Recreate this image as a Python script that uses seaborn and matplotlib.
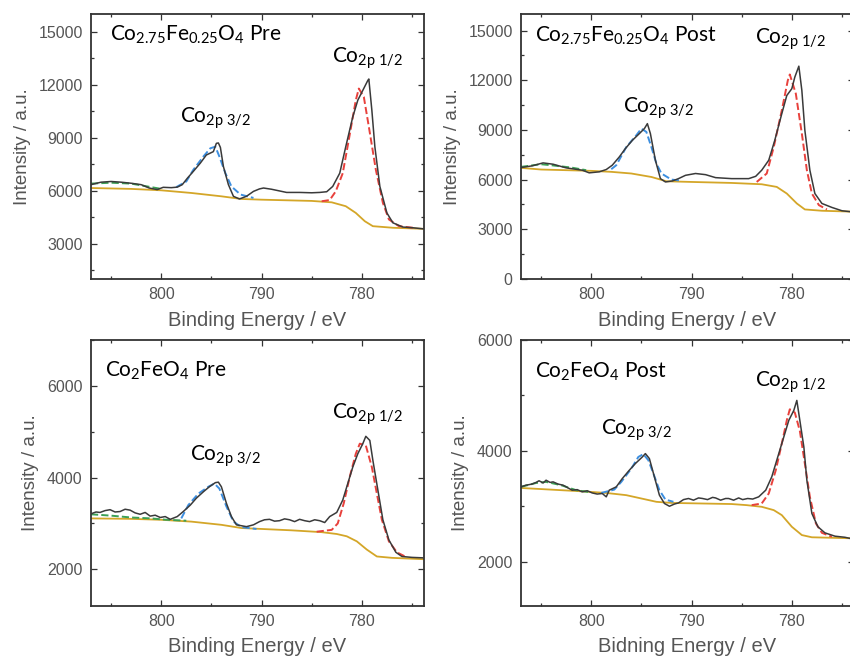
import matplotlib
matplotlib.use("Agg")
import matplotlib.pyplot as plt
from matplotlib.ticker import MultipleLocator
import seaborn as sns
import pandas as pd

# ---------------- Co2.75Fe0.25O4 Pre ----------------
pre275_E = [807.0, 806.0, 805.0, 804.0, 803.0, 802.0, 801.2, 800.4, 799.8, 799.0, 798.4, 797.9,
            797.4, 796.8, 796.1, 795.5, 794.8, 794.5, 794.3, 794.1, 793.8, 793.3, 792.8, 792.2,
            791.5, 790.8, 790.2, 789.8, 789.0, 788.5, 787.5, 786.2, 785.0, 784.2, 783.5, 782.9,
            782.2, 781.6, 780.9, 780.4, 779.9, 779.4, 779.3, 779.0, 778.7, 778.2, 777.5, 776.9,
            775.9, 774.9, 773.9]
pre275_I = [6340, 6480, 6520, 6480, 6420, 6340, 6150, 6060, 6190, 6170, 6200, 6340,
            6700, 7090, 7560, 8020, 8210, 8680, 8700, 8450, 7370, 6340, 5680, 5530,
            5680, 5960, 6100, 6150, 6080, 6020, 5900, 5900, 5880, 5900, 5940, 6240,
            6990, 8490, 10180, 11120, 11680, 12240, 12320, 10560, 8490, 6240, 4740, 4180,
            3940, 3900, 3840]
pre275_bg_E = [807, 803, 800, 797, 794, 792, 790, 785, 783, 781.6, 780.6, 779.7, 778.9, 776.9, 773.8]
pre275_bg_I = [6150, 6100, 6020, 5870, 5680, 5530, 5490, 5420, 5340, 5120, 4740, 4270, 3990, 3900, 3840]
pre275_a_E = [798.5, 797.5, 796.8, 795.8, 795.1, 794.6, 794.2, 793.6, 793.0, 792.1, 790.8]
pre275_a_I = [6200, 6520, 7180, 7930, 8400, 8490, 7930, 6990, 6240, 5780, 5590]
pre275_b_E = [784.0, 783.2, 782.6, 781.9, 781.3, 780.6, 780.3, 779.8, 779.3, 778.6, 777.9, 777.3, 776.3, 774.6]
pre275_b_I = [5400, 5470, 5960, 6990, 8870, 11120, 11780, 11310, 9620, 7180, 5310, 4370, 3990, 3880]
pre275_c_E = [807, 805, 803, 801.4, 800]
pre275_c_I = [6400, 6450, 6400, 6240, 6100]

# ---------------- Co2.75Fe0.25O4 Post ----------------
post275_E = [807.0, 805.9, 804.8, 803.8, 802.5, 800.9, 800.2, 799.2, 798.5, 797.9, 797.2, 796.6,
             795.9, 795.2, 794.7, 794.4, 794.1, 793.6, 793.1, 792.6, 791.9, 791.3, 790.6, 789.6,
             788.6, 787.6, 786.0, 784.3, 783.6, 783.0, 782.3, 781.7, 781.0, 780.5, 780.0, 779.7,
             779.3, 779.0, 778.7, 778.2, 777.7, 777.0, 776.0, 775.0, 774.1, 773.6]
post275_I = [6730, 6830, 7010, 6930, 6710, 6570, 6410, 6470, 6610, 6870, 7370, 7870,
             8370, 8780, 9080, 9380, 8780, 7170, 6060, 5860, 5920, 6060, 6260, 6370,
             6300, 6120, 6060, 6060, 6200, 6570, 7170, 8370, 9980, 11080, 11490, 12190,
             12850, 11390, 8980, 6570, 5160, 4560, 4320, 4120, 4060, 3950]
post275_bg_E = [807, 805, 800, 798, 796, 794, 792.5, 790, 786, 783, 781.5, 780.5, 779.5, 778.7, 777, 773.6]
post275_bg_I = [6710, 6610, 6530, 6470, 6370, 6160, 5900, 5860, 5800, 5720, 5560, 5160, 4560, 4200, 4120, 4060]
post275_a_E = [798.0, 797.5, 796.5, 795.5, 795.0, 794.5, 794.0, 793.5, 793.0, 792.0, 791.0]
post275_a_I = [6630, 6870, 7970, 8680, 9080, 8880, 7970, 6970, 6370, 6000, 5940]
post275_b_E = [783.5, 782.5, 781.8, 781.0, 780.4, 780.2, 779.6, 779.0, 778.5, 778.0, 777.3, 776.5]
post275_b_I = [5860, 6370, 7970, 10180, 11990, 12350, 11190, 8780, 6570, 5160, 4460, 4200]
post275_c_E = [807, 805, 804, 802, 800.5]
post275_c_I = [6770, 6930, 6870, 6730, 6570]

# ---------------- Co2FeO4 Pre ----------------
pre2_E = [807.0, 806.5, 806.1, 805.6, 805.1, 804.6, 804.1, 803.6, 803.1, 802.6, 802.1, 801.6,
          801.1, 800.6, 800.1, 799.6, 799.1, 798.4, 797.8, 797.1, 796.5, 795.8, 795.2, 794.6,
          794.3, 794.0, 793.5, 793.0, 792.5, 792.0, 791.5, 790.8, 790.2, 789.7, 789.2, 788.7,
          788.2, 787.7, 787.2, 786.7, 786.2, 785.7, 785.2, 784.7, 784.2, 783.7, 783.2, 782.5,
          781.9, 781.4, 780.9, 780.4, 779.9, 779.6, 779.2, 778.9, 778.4, 777.9, 777.3, 776.6,
          776.0, 775.0, 773.9]
pre2_I = [3210, 3250, 3240, 3280, 3300, 3250, 3260, 3310, 3290, 3230, 3200, 3240,
          3160, 3180, 3130, 3150, 3090, 3150, 3260, 3400, 3550, 3690, 3800, 3890,
          3900, 3800, 3440, 3150, 2970, 2950, 2930, 2970, 3040, 3080, 3090, 3050,
          3060, 3100, 3080, 3040, 3090, 3060, 3040, 3080, 3060, 3020, 3150, 3240,
          3510, 3870, 4230, 4520, 4740, 4900, 4810, 4380, 3730, 3080, 2640, 2370,
          2280, 2260, 2250]
pre2_bg_E = [807, 803, 800, 797, 794, 792, 790, 787, 784, 782.5, 781.5, 780.5, 779.5, 778.5, 777, 773.8]
pre2_bg_I = [3110, 3100, 3080, 3040, 2970, 2900, 2880, 2850, 2810, 2770, 2720, 2610, 2430, 2280, 2250, 2220]
pre2_a_E = [798.0, 797.3, 796.3, 795.3, 794.7, 794.2, 793.5, 792.8, 792.0, 790.5]
pre2_a_I = [3110, 3400, 3650, 3800, 3870, 3760, 3370, 3040, 2920, 2880]
pre2_b_E = [784.5, 783.0, 782.4, 781.8, 781.2, 780.6, 780.2, 779.6, 779.0, 778.5, 778.0, 777.3, 776.5, 775.5]
pre2_b_I = [2820, 2860, 3000, 3440, 4020, 4520, 4740, 4700, 4230, 3650, 3080, 2610, 2370, 2260]
pre2_c_E = [807, 805, 803, 801, 799.5, 797.5]
pre2_c_I = [3200, 3170, 3130, 3110, 3080, 3060]

# ---------------- Co2FeO4 Post ----------------
post2_E = [807.0, 806.5, 805.9, 805.5, 805.2, 804.8, 804.5, 804.1, 803.8, 803.3, 802.8, 802.3,
           801.9, 801.4, 800.9, 800.4, 799.9, 799.4, 798.9, 798.5, 798.2, 797.5, 796.9, 796.2,
           795.6, 794.9, 794.6, 794.2, 793.7, 793.2, 792.7, 792.2, 791.7, 791.3, 790.8, 790.3,
           789.8, 789.3, 788.9, 788.4, 787.9, 787.6, 787.1, 786.6, 786.3, 785.8, 785.3, 784.9,
           784.4, 783.9, 783.3, 782.6, 782.0, 781.3, 780.8, 780.3, 779.8, 779.5, 779.2, 778.8,
           778.5, 778.0, 777.4, 776.7, 775.7, 774.7, 774.2, 773.6]
post2_I = [3350, 3380, 3400, 3430, 3460, 3420, 3470, 3430, 3440, 3400, 3380, 3330,
           3290, 3300, 3260, 3280, 3240, 3220, 3230, 3170, 3290, 3350, 3500, 3650,
           3770, 3890, 3950, 3860, 3530, 3200, 3050, 3000, 3040, 3060, 3120, 3140,
           3110, 3150, 3140, 3120, 3160, 3150, 3110, 3140, 3140, 3110, 3150, 3120,
           3140, 3130, 3170, 3290, 3530, 3950, 4250, 4550, 4730, 4910, 4550, 4070,
           3470, 2870, 2630, 2520, 2460, 2440, 2420, 2420]
post2_bg_E = [807, 804, 801, 798.5, 796.5, 795, 793.5, 792, 789, 786, 784.5, 783, 781.8, 781, 780, 779, 778, 773.6]
post2_bg_I = [3330, 3300, 3270, 3240, 3200, 3140, 3080, 3060, 3050, 3040, 3020, 2990, 2930, 2840, 2630, 2480, 2440, 2420]
post2_a_E = [799.0, 797.7, 797.0, 796.0, 795.3, 794.8, 794.3, 793.8, 793.2, 792.6, 791.8]
post2_a_I = [3240, 3300, 3440, 3680, 3890, 3940, 3830, 3590, 3290, 3120, 3080]
post2_b_E = [784.0, 783.0, 782.3, 781.6, 781.0, 780.5, 780.2, 779.7, 779.2, 778.7, 778.2, 777.6, 777.0, 776.0]
post2_b_I = [3020, 3050, 3230, 3650, 4130, 4550, 4750, 4690, 4360, 3770, 3170, 2690, 2520, 2450]
post2_c_E = [807, 805.5, 804.5, 803, 801.5, 800]
post2_c_I = [3350, 3420, 3440, 3380, 3290, 3250]

# panel titles, peak labels and axis settings
titles = [r"Co$_{2.75}$Fe$_{0.25}$O$_{4}$ Pre", r"Co$_{2.75}$Fe$_{0.25}$O$_{4}$ Post",
          r"Co$_{2}$FeO$_{4}$ Pre", r"Co$_{2}$FeO$_{4}$ Post"]
xlabels = ["Binding Energy / eV", "Binding Energy / eV", "Binding Energy / eV", "Bidning Energy / eV"]
ylims = [(1000, 16000), (0, 16000), (1200, 7000), (1200, 6000)]
ymajor = [3000, 3000, 2000, 2000]
yminor = [1500, 1500, 1000, 1000]
peak32 = r"Co$_{2p\ 3/2}$"
peak12 = r"Co$_{2p\ 1/2}$"

sns.set_theme(style="ticks")
plt.rcParams["font.family"] = ["Liberation Sans", "DejaVu Sans"]
plt.rcParams["mathtext.fontset"] = "custom"
plt.rcParams["mathtext.rm"] = "Lato"
plt.rcParams["mathtext.it"] = "Lato:italic"
plt.rcParams["mathtext.bf"] = "Lato:bold"
plt.rcParams["mathtext.default"] = "rm"

fig = plt.figure(figsize=(8.5, 6.62), dpi=100)
W = 333 / 850
positions = [
    (91 / 850, 1 - 279 / 662, W, 265 / 662),
    (521 / 850, 1 - 279 / 662, W, 265 / 662),
    (91 / 850, 1 - 606 / 662, W, 266 / 662),
    (521 / 850, 1 - 606 / 662, W, 266 / 662),
]

panels = [
    (pre275_E, pre275_I, pre275_bg_E, pre275_bg_I, pre275_a_E, pre275_a_I, pre275_b_E, pre275_b_I, pre275_c_E, pre275_c_I),
    (post275_E, post275_I, post275_bg_E, post275_bg_I, post275_a_E, post275_a_I, post275_b_E, post275_b_I, post275_c_E, post275_c_I),
    (pre2_E, pre2_I, pre2_bg_E, pre2_bg_I, pre2_a_E, pre2_a_I, pre2_b_E, pre2_b_I, pre2_c_E, pre2_c_I),
    (post2_E, post2_I, post2_bg_E, post2_bg_I, post2_a_E, post2_a_I, post2_b_E, post2_b_I, post2_c_E, post2_c_I),
]

# label anchor positions (E, intensity) for: title, 3/2 peak, 1/2 peak
title_pos = [(805.1, 14800), (805.6, 14700), (805.6, 6330), (805.6, 5430)]
p32_pos = [(798.1, 10100), (796.8, 10280), (797.1, 4470), (799.0, 4370)]
p12_pos = [(783.0, 13500), (783.7, 14500), (783.0, 5390), (783.7, 5230)]
ylab_x = [-0.207, -0.207, -0.183, -0.183]
xlab_y = [-0.157, -0.157, -0.154, -0.154]

spine_col = "#333333"
tick_col = "#555555"
lab_col = "#555555"
note_font = ["Lato", "DejaVu Sans"]

for i, pos in enumerate(positions):
    ax = fig.add_axes(pos)
    E, I, bE, bI, aE, aI, rE, rI, gE, gI = panels[i]
    df = pd.DataFrame({"E": E, "I": I})
    sns.lineplot(x=bE, y=bI, ax=ax, color="#D4A628", lw=1.3, sort=False)
    sns.lineplot(x=gE, y=gI, ax=ax, color="#3CA055", lw=1.4, linestyle="--", sort=False)
    sns.lineplot(x=aE, y=aI, ax=ax, color="#3D8FE0", lw=1.4, linestyle="--", sort=False)
    sns.lineplot(x=rE, y=rI, ax=ax, color="#E8413C", lw=1.4, linestyle="--", sort=False)
    sns.lineplot(data=df, x="E", y="I", ax=ax, color="#3a3a3a", lw=1.1, sort=False)

    ax.set_xlim(807, 773.8)
    ax.set_ylim(*ylims[i])
    ax.xaxis.set_major_locator(MultipleLocator(10))
    ax.xaxis.set_minor_locator(MultipleLocator(5))
    ax.yaxis.set_major_locator(MultipleLocator(ymajor[i]))
    ax.yaxis.set_minor_locator(MultipleLocator(yminor[i]))
    ax.tick_params(which="both", direction="in", top=True, right=True,
                   color=spine_col, width=0.9)
    ax.tick_params(which="major", length=4.5, labelsize=11.5, labelcolor=tick_col, pad=6)
    ax.tick_params(which="minor", length=2.5)
    for s in ax.spines.values():
        s.set_color(spine_col)
        s.set_linewidth(1.3)

    ax.set_xlabel(xlabels[i], fontsize=14.5, color=lab_col, va="center")
    ax.xaxis.set_label_coords(0.5, xlab_y[i])
    ax.set_ylabel("Intensity / a.u.", fontsize=13.5, color=lab_col, va="center")
    ax.yaxis.set_label_coords(ylab_x[i], 0.5)

    ax.text(*title_pos[i], titles[i], fontsize=15, color="black", ha="left", va="center", family=note_font)
    ax.text(*p32_pos[i], peak32, fontsize=15, color="black", ha="left", va="center", family=note_font)
    ax.text(*p12_pos[i], peak12, fontsize=15, color="black", ha="left", va="center", family=note_font)

fig.savefig("out.png", dpi=100)
